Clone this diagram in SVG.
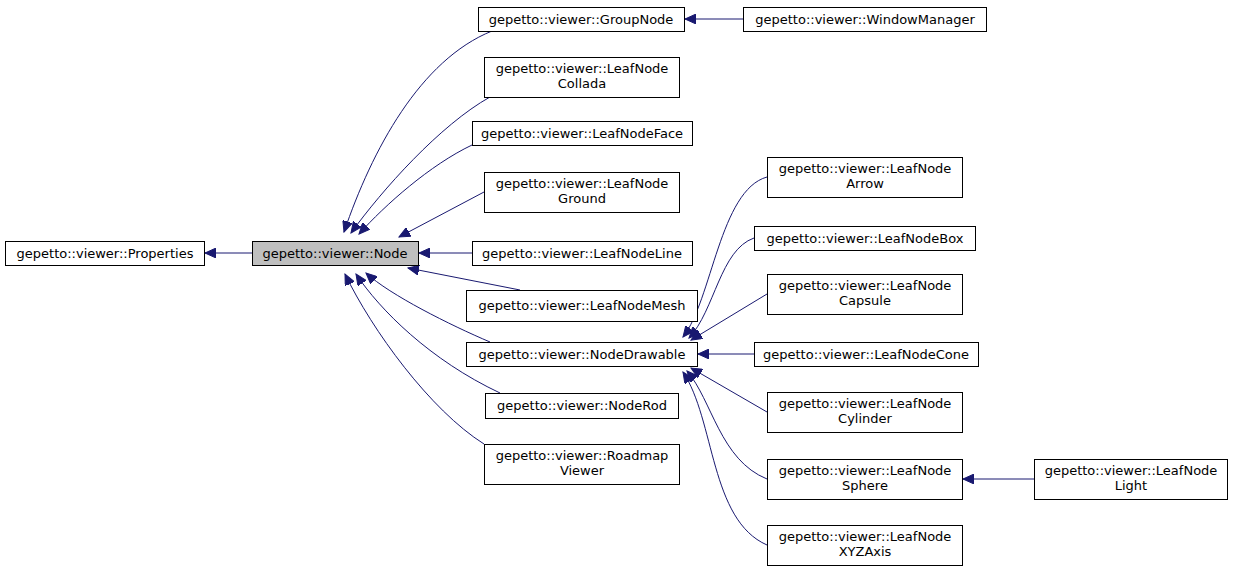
<svg xmlns="http://www.w3.org/2000/svg" width="1233" height="570" viewBox="0 0 1233 570">
<style>
.n rect{fill:#fff;stroke:#000;stroke-width:1}
.g rect{fill:#bfbfbf}
text{font-family:"DejaVu Sans",sans-serif;font-size:13px;text-anchor:middle;fill:#000}
.e path{fill:none;stroke:#191970;stroke-width:1;marker-end:url(#a)}
</style>
<defs><marker id="a" markerWidth="12" markerHeight="10" refX="11" refY="5" orient="auto" markerUnits="userSpaceOnUse"><path d="M0,0 L11,5 L0,10 Z" fill="#191970" stroke="#191970"/></marker></defs>
<rect width="1233" height="570" fill="#fff"/>
<g class="e">
<path d="M252,253 L205,253"/>
<path d="M743,19 L685,19"/>
<path d="M492,31 C420,60 372,150 344,232"/>
<path d="M490,97 C440,125 382,190 351,233"/>
<path d="M472,145 C430,165 385,205 359,234"/>
<path d="M484,192 L399,237"/>
<path d="M472,253 L419,253"/>
<path d="M520,290 L408,268"/>
<path d="M490,342 C450,325 390,295 366,273"/>
<path d="M500,393 C430,360 380,310 356,274"/>
<path d="M484,444 C430,410 372,330 345,274"/>
<path d="M767,177 C720,190 712,300 683,337"/>
<path d="M754,238 C720,250 715,310 689,338"/>
<path d="M767,294 L691,340"/>
<path d="M754,354 L698,354"/>
<path d="M767,412 L691,368"/>
<path d="M767,479 C720,460 712,400 687,371"/>
<path d="M767,545 C710,520 715,420 683,372"/>
<path d="M1034,479 L963,479"/>
</g>
<g id="properties" class="n"><rect x="5.500" y="241.500" width="199" height="24"/><text x="105" y="258">gepetto::viewer::Properties</text></g>
<g id="node" class="n g"><rect x="252.500" y="241.500" width="166" height="24"/><text x="335" y="258">gepetto::viewer::Node</text></g>
<g id="groupnode" class="n"><rect x="478.500" y="7.500" width="206" height="24"/><text x="581" y="24">gepetto::viewer::GroupNode</text></g>
<g id="windowmanager" class="n"><rect x="743.500" y="7.500" width="243" height="24"/><text x="865" y="24">gepetto::viewer::WindowManager</text></g>
<g id="collada" class="n"><rect x="484.500" y="57.500" width="195" height="40"/><text x="582" y="73">gepetto::viewer::LeafNode</text><text x="582" y="88">Collada</text></g>
<g id="face" class="n"><rect x="472.500" y="121.500" width="220" height="24"/><text x="582" y="138">gepetto::viewer::LeafNodeFace</text></g>
<g id="ground" class="n"><rect x="484.500" y="172.500" width="195" height="40"/><text x="582" y="188">gepetto::viewer::LeafNode</text><text x="582" y="203">Ground</text></g>
<g id="line" class="n"><rect x="472.500" y="241.500" width="220" height="24"/><text x="582" y="258">gepetto::viewer::LeafNodeLine</text></g>
<g id="mesh" class="n"><rect x="466.500" y="290.500" width="231" height="31"/><text x="582" y="310">gepetto::viewer::LeafNodeMesh</text></g>
<g id="nodedrawable" class="n"><rect x="466.500" y="342.500" width="231" height="24"/><text x="582" y="359">gepetto::viewer::NodeDrawable</text></g>
<g id="noderod" class="n"><rect x="485.500" y="393.500" width="193" height="25"/><text x="582" y="410">gepetto::viewer::NodeRod</text></g>
<g id="roadmap" class="n"><rect x="484.500" y="444.500" width="195" height="40"/><text x="582" y="460">gepetto::viewer::Roadmap</text><text x="582" y="475">Viewer</text></g>
<g id="arrow" class="n"><rect x="767.500" y="157.500" width="195" height="40"/><text x="865" y="173">gepetto::viewer::LeafNode</text><text x="865" y="188">Arrow</text></g>
<g id="box" class="n"><rect x="754.500" y="226.500" width="221" height="24"/><text x="865" y="243">gepetto::viewer::LeafNodeBox</text></g>
<g id="capsule" class="n"><rect x="767.500" y="274.500" width="195" height="40"/><text x="865" y="290">gepetto::viewer::LeafNode</text><text x="865" y="305">Capsule</text></g>
<g id="cone" class="n"><rect x="754.500" y="342.500" width="224" height="24"/><text x="866" y="359">gepetto::viewer::LeafNodeCone</text></g>
<g id="cylinder" class="n"><rect x="767.500" y="392.500" width="195" height="40"/><text x="865" y="408">gepetto::viewer::LeafNode</text><text x="865" y="423">Cylinder</text></g>
<g id="sphere" class="n"><rect x="767.500" y="459.500" width="195" height="40"/><text x="865" y="475">gepetto::viewer::LeafNode</text><text x="865" y="490">Sphere</text></g>
<g id="xyzaxis" class="n"><rect x="767.500" y="525.500" width="195" height="40"/><text x="865" y="541">gepetto::viewer::LeafNode</text><text x="865" y="556">XYZAxis</text></g>
<g id="light" class="n"><rect x="1034.500" y="459.500" width="193" height="40"/><text x="1131" y="475">gepetto::viewer::LeafNode</text><text x="1131" y="490">Light</text></g>
</svg>
